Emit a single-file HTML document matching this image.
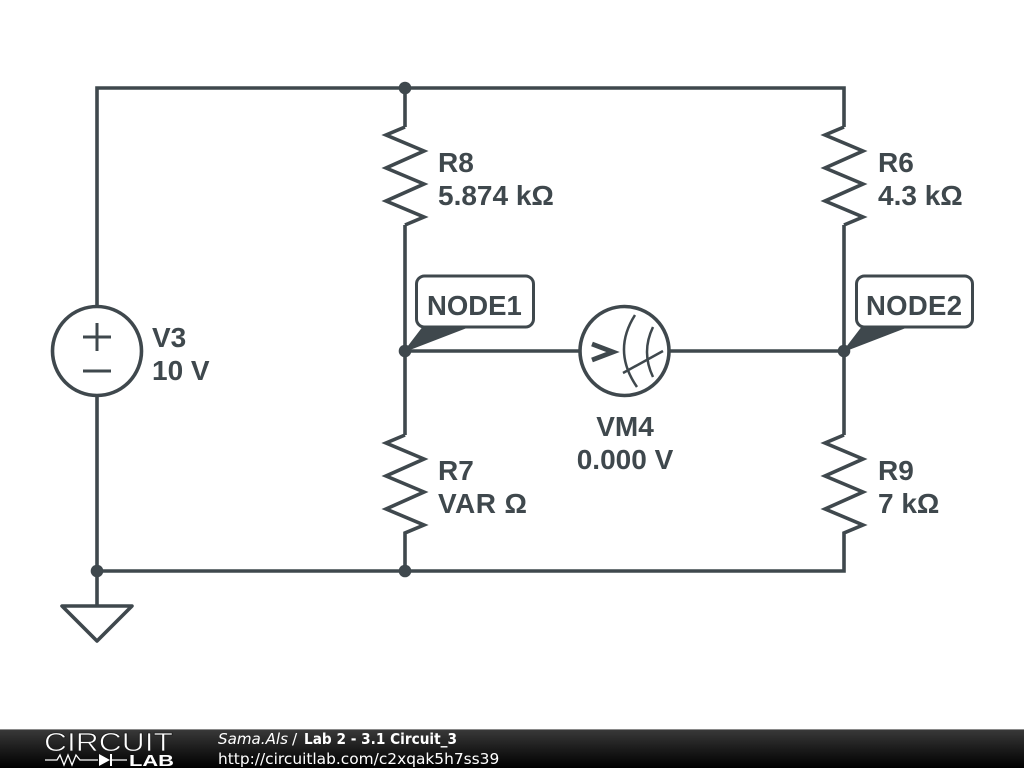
<!DOCTYPE html>
<html><head><meta charset="utf-8"><style>
html,body{margin:0;padding:0;background:#fff;width:1024px;height:768px;overflow:hidden}
svg{display:block}
.l{font-family:"Liberation Sans",sans-serif;font-weight:bold;font-size:28px;fill:#3f484d}
.n{font-family:"Liberation Sans",sans-serif;font-weight:bold;font-size:27.500px;fill:#3f484d}
.f{font-family:"DejaVu Sans",sans-serif;font-size:15.400px;fill:#fff}
</style></head><body>
<svg width="1024" height="768" viewBox="0 0 1024 768" xmlns="http://www.w3.org/2000/svg">
<defs><linearGradient id="g" x1="0" y1="0" x2="0" y2="1"><stop offset="0" stop-color="#3a3a3a"/><stop offset="0.5" stop-color="#1c1c1c"/><stop offset="1" stop-color="#000"/></linearGradient></defs>
<rect width="1024" height="768" fill="#fff"/>
<g fill="none" stroke="#3f484d" stroke-width="3.600" stroke-linejoin="miter">
<path d="M97 307V88H844V127M405 88V127M97 397V571H844V535M405 571V535M405 225V435M844 225V435M405 351H580M669 351H844M97 571V606"/>
<path d="M405 127L386 135L424 151L386 168L424 184L386 201L424 217L405 225"/>
<path d="M844 127L825 135L863 151L825 168L863 184L825 201L863 217L844 225"/>
<path d="M405 435L386 443L424 459L386 476L424 492L386 509L424 525L405 533V535"/>
<path d="M844 435L825 443L863 459L825 476L863 492L825 509L863 525L844 533V535"/>
<circle cx="97" cy="351" r="44.500"/>
<circle cx="624.500" cy="351" r="44.500"/>
<path d="M83 337H111M97 323V351M83 371H111" stroke-width="3"/>
<path d="M62 606H132L97 641Z" stroke-linejoin="round"/>
<path d="M592 344L613 352L592 360" stroke-width="4.800"/>
<path d="M635 315Q612 351 637 387M653 327Q641 352 653 377M623 373L663 351" stroke-width="2.500"/>
</g>
<g fill="#3f484d">
<circle cx="405" cy="88" r="6.300"/><circle cx="405" cy="351" r="6.300"/><circle cx="844" cy="351" r="6.300"/><circle cx="97" cy="571" r="6.300"/><circle cx="405" cy="571" r="6.300"/>
</g>
<g fill="#fff" stroke="#3f484d" stroke-width="3">
<rect x="416.500" y="276" width="117" height="51" rx="8"/>
<rect x="856.500" y="276" width="116" height="51" rx="8"/>
</g>
<g fill="#3f484d" stroke="#3f484d" stroke-width="1.500" stroke-linejoin="round"><path d="M405 351L423 327.500H466Z"/><path d="M844 351L862 327.500H905Z"/></g>
<text class="l" x="438" y="172">R8</text><text class="l" x="438" y="205">5.874 kΩ</text>
<text class="l" x="878" y="172">R6</text><text class="l" x="878" y="205">4.3 kΩ</text>
<text class="l" x="438" y="480">R7</text><text class="l" x="438" y="513" textLength="89">VAR Ω</text>
<text class="l" x="878" y="480">R9</text><text class="l" x="878" y="513">7 kΩ</text>
<text class="l" x="152" y="347">V3</text><text class="l" x="152" y="380">10 V</text>
<text class="l" x="625" y="436" text-anchor="middle">VM4</text><text class="l" x="625" y="469" text-anchor="middle">0.000 V</text>
<text class="n" x="427" y="315">NODE1</text><text class="n" x="866" y="315" textLength="96">NODE2</text>
<rect y="729" width="1024" height="39" fill="url(#g)"/>
<rect y="729" width="1024" height="1" fill="#8a8a8a"/>
<text x="44" y="751" font-family="'Liberation Sans',sans-serif" font-size="25.500" fill="#fff" stroke="#1c1c1c" stroke-width="0.700" paint-order="fill" textLength="129" lengthAdjust="spacingAndGlyphs">CIRCUIT</text>
<path d="M45 760H57L60 755L64 765L68 755L72 765L76 755L80 760H98M112 760H127" stroke="#fff" stroke-width="1.300" fill="none"/>
<path d="M99 754L110 760L99 766Z" fill="#fff"/><rect x="110" y="754" width="2" height="12" fill="#fff"/>
<text x="129" y="766" font-family="'Liberation Sans',sans-serif" font-weight="bold" font-size="16" fill="#fff" textLength="45" lengthAdjust="spacingAndGlyphs">LAB</text>
<text class="f" x="218" y="744" font-style="italic" textLength="70" lengthAdjust="spacingAndGlyphs">Sama.Als</text>
<text class="f" x="292" y="744">/</text>
<text class="f" x="304" y="744" font-weight="bold" textLength="153" lengthAdjust="spacingAndGlyphs">Lab 2 - 3.1 Circuit_3</text>
<text class="f" x="218" y="764">http://circuitlab.com/c2xqak5h7ss39</text>
</svg>
</body></html>
